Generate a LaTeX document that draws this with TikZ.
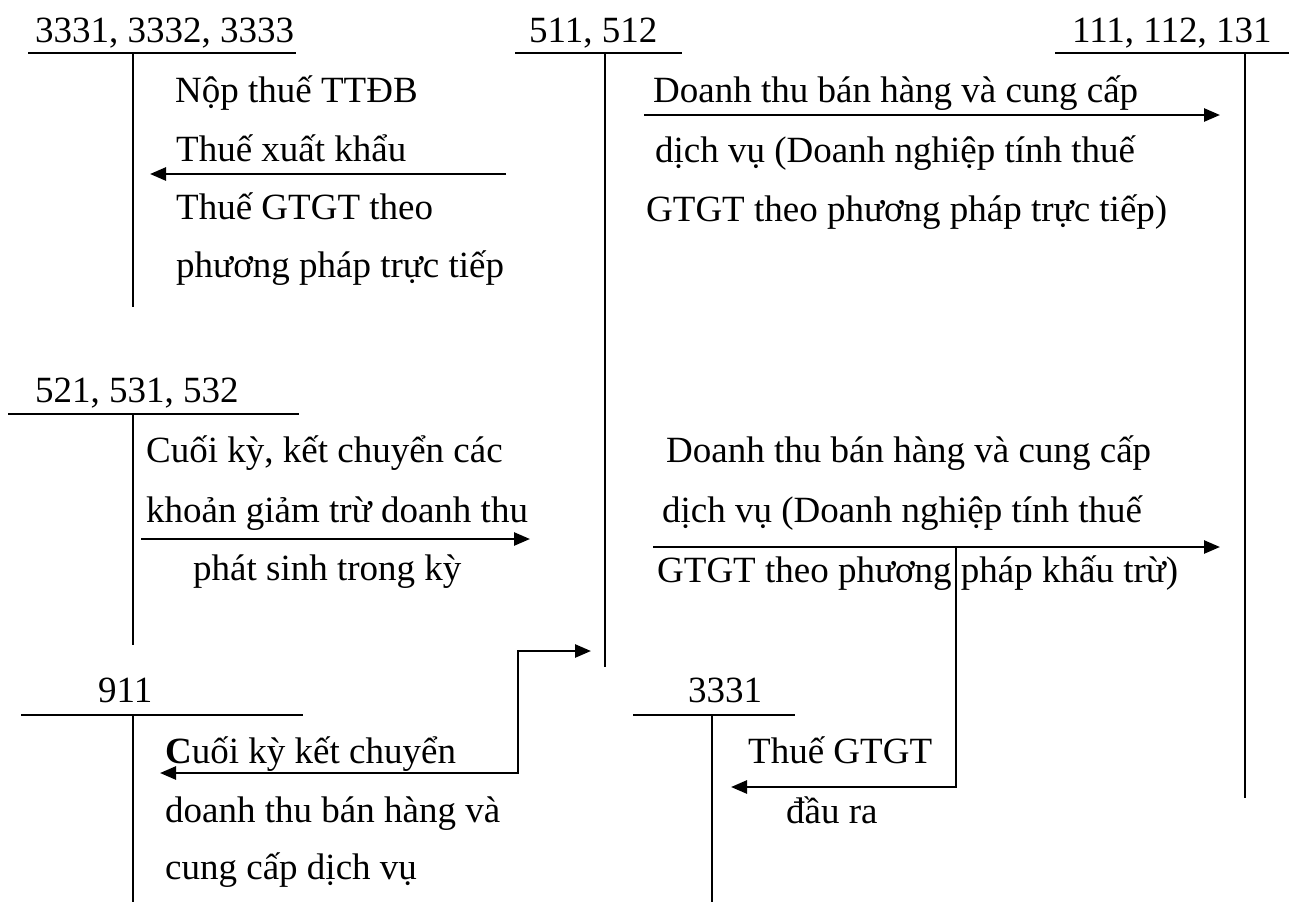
\documentclass[tikz,border=0pt]{standalone}
\usepackage{fontspec}
\setmainfont{Liberation Serif}
\usetikzlibrary{arrows.meta}
\begin{document}
\begin{tikzpicture}[x=1pt,y=-1pt,
  acct/.style={line width=1.8pt},
  flow/.style={line width=2.6pt,-{Triangle[length=16pt,width=13pt]}},
  flowboth/.style={line width=2.6pt,{Triangle[length=16pt,width=13pt]}-{Triangle[length=16pt,width=13pt]}},
  lbl/.style={anchor=base west,inner sep=0pt,font=\fontsize{37}{44}\selectfont}]
\useasboundingbox (0,0) rectangle (1289,902);
% account headers
\node[lbl] (h1) at (35,42) {3331, 3332, 3333};
\node[lbl] (h2) at (529,42) {511, 512};
\node[lbl] (h3) at (1072,42) {111, 112, 131};
\node[lbl] (h4) at (35,402) {521, 531, 532};
\node[lbl] (h5) at (98,702) {911};
\node[lbl] (h6) at (688,702) {3331};
% T accounts
\draw[acct] (28,53) -- (296,53) (133,53) -- (133,307);
\draw[acct] (515,53) -- (682,53) (605,53) -- (605,667);
\draw[acct] (1055,53) -- (1289,53) (1245,53) -- (1245,798);
\draw[acct] (8,414) -- (299,414) (133,414) -- (133,645);
\draw[acct] (21,715) -- (303,715) (133,715) -- (133,902);
\draw[acct] (633,715) -- (795,715) (712,715) -- (712,902);
% block A
\node[lbl] (a1) at (175,102) {Nộp thuế TTĐB};
\node[lbl] (a2) at (176,161) {Thuế xuất khẩu};
\node[lbl] (a3) at (176,219) {Thuế GTGT theo};
\node[lbl] (a4) at (176,277) {phương pháp trực tiếp};
% block B
\node[lbl] (b1) at (653,102) {Doanh thu bán hàng và cung cấp};
\node[lbl] (b2) at (655,162) {dịch vụ (Doanh nghiệp tính thuế};
\node[lbl] (b3) at (646,221) {GTGT theo phương pháp trực tiếp)};
% block C
\node[lbl] (c1) at (146,462) {Cuối kỳ, kết chuyển các};
\node[lbl] (c2) at (146,522) {khoản giảm trừ doanh thu};
\node[lbl] (c3) at (193,580) {phát sinh trong kỳ};
% block D
\node[lbl] (d1) at (666,462) {Doanh thu bán hàng và cung cấp};
\node[lbl] (d2) at (662,522) {dịch vụ (Doanh nghiệp tính thuế};
\node[lbl] (d3) at (657,582) {GTGT theo phương pháp khấu trừ)};
% block E
\node[lbl] (e1) at (165,763) {\textbf{C}uối kỳ kết chuyển};
\node[lbl] (e2) at (165,822) {doanh thu bán hàng và};
\node[lbl] (e3) at (165,879) {cung cấp dịch vụ};
% block F
\node[lbl] (f1) at (748,763) {Thuế GTGT};
\node[lbl] (f2) at (786,823) {đầu ra};
% arrow end points
\coordinate (p1s) at (506,174); \coordinate (p1e) at (150,174);
\coordinate (p2s) at (644,115); \coordinate (p2e) at (1220,115);
\coordinate (p3s) at (141,539); \coordinate (p3e) at (530,539);
\coordinate (p4s) at (653,547); \coordinate (p4e) at (1220,547);
\coordinate (p5s) at (956,547); \coordinate (p5c) at (956,787); \coordinate (p5e) at (731,787);
\coordinate (p6a) at (160,773); \coordinate (p6c1) at (518,773); \coordinate (p6c2) at (518,651); \coordinate (p6b) at (591,651);
\draw[flow] (p1s) -- (p1e);
\draw[flow] (p2s) -- (p2e);
\draw[flow] (p3s) -- (p3e);
\draw[flow] (p4s) -- (p4e);
\draw[flow] (p5s) -- (p5c) -- (p5e);
\draw[flowboth] (p6a) -- (p6c1) -- (p6c2) -- (p6b);
\end{tikzpicture}
\end{document}
